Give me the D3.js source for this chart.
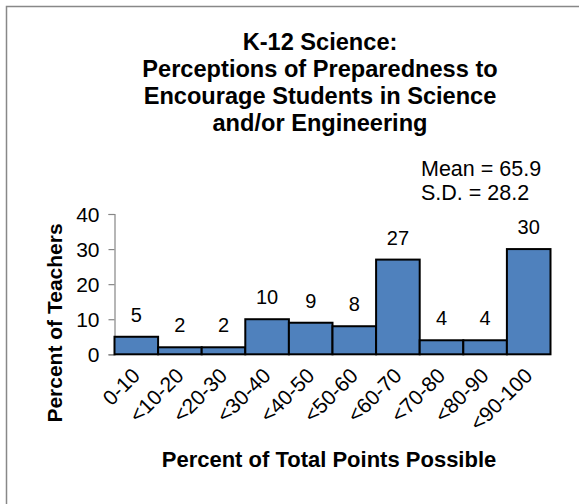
<!DOCTYPE html>
<html>
<head>
<meta charset="utf-8">
<script src="https://cdn.jsdelivr.net/npm/d3@7"></script>
<style>
  body { margin: 0; background: #fff; }
  text { font-family: "Liberation Sans", Arial, sans-serif; fill: #000; }
</style>
</head>
<body>
<div id="chart"></div>
<script>
const width = 579, height = 504;

// données
const categories = ["0-10", "<10-20", "<20-30", "<30-40", "<40-50", "<50-60", "<60-70", "<70-80", "<80-90", "<90-100"];
const values = [5, 2, 2, 10, 9, 8, 27, 4, 4, 30];
const yTicks = [0, 10, 20, 30, 40];
const titleLines = ["K-12 Science:", "Perceptions of Preparedness to", "Encourage Students in Science", "and/or Engineering"];
const statLines = ["Mean = 65.9", "S.D. = 28.2"];

const svg = d3.select("#chart").append("svg")
  .attr("width", width)
  .attr("height", height);

// cadre
svg.append("rect")
  .attr("x", 6.5).attr("y", 6.5)
  .attr("width", 620).attr("height", 540)
  .attr("fill", "none")
  .attr("stroke", "#888")
  .attr("stroke-width", 1.5);

// titre
svg.append("text")
  .attr("text-anchor", "middle")
  .style("font-weight", "bold")
  .style("font-size", "23.6px")
  .selectAll("tspan")
  .data(titleLines)
  .join("tspan")
  .attr("x", 320)
  .attr("y", (d, i) => 49.5 + i * 27.2)
  .text(d => d);

// moyenne / écart-type
svg.append("text")
  .style("font-size", "21.5px")
  .selectAll("tspan")
  .data(statLines)
  .join("tspan")
  .attr("x", 421)
  .attr("y", (d, i) => 176 + i * 24)
  .text(d => d);

// échelles
const x = d3.scaleBand()
  .domain(categories)
  .range([114.5, 550.5])
  .padding(0);

const y = d3.scaleLinear()
  .domain([0, 40])
  .range([354.3, 214]);

// axe Y
const yAxis = svg.append("g")
  .attr("transform", "translate(114.5,0)")
  .call(d3.axisLeft(y).tickValues(yTicks).tickSize(6).tickPadding(9));
yAxis.select(".domain").attr("stroke", "#868686").attr("stroke-width", 1.2);
yAxis.selectAll(".tick line").attr("stroke", "#868686").attr("stroke-width", 1.2);
yAxis.selectAll(".tick text")
  .style("font-family", "Liberation Sans, Arial, sans-serif")
  .style("font-size", "21px")
  .attr("dy", "0.36em");

// ligne de base
svg.append("line")
  .attr("x1", 114.5).attr("x2", 550.5)
  .attr("y1", y(0)).attr("y2", y(0))
  .attr("stroke", "#868686");

// barres
svg.selectAll("rect.bar")
  .data(values)
  .join("rect")
  .attr("class", "bar")
  .attr("x", (d, i) => x(categories[i]))
  .attr("y", d => y(d))
  .attr("width", x.bandwidth())
  .attr("height", d => y(0) - y(d))
  .attr("fill", "#4F81BD")
  .attr("stroke", "#000")
  .attr("stroke-width", 2);

// étiquettes de valeurs
svg.selectAll("text.lbl")
  .data(values)
  .join("text")
  .attr("class", "lbl")
  .attr("x", (d, i) => x(categories[i]) + x.bandwidth() / 2)
  .attr("y", d => y(d) - 15)
  .attr("text-anchor", "middle")
  .style("font-size", "20px")
  .text(d => d);

// étiquettes de l'axe X
svg.selectAll("text.xlbl")
  .data(categories)
  .join("text")
  .attr("class", "xlbl")
  .attr("text-anchor", "end")
  .attr("transform", d => `translate(${x(d) + x.bandwidth() / 2 + 5},${377}) rotate(-45)`)
  .style("font-size", "21px")
  .text(d => d);

// titres des axes
svg.append("text")
  .attr("x", 329)
  .attr("y", 467)
  .attr("text-anchor", "middle")
  .style("font-weight", "bold")
  .style("font-size", "22px")
  .text("Percent of Total Points Possible");

svg.append("text")
  .attr("transform", "translate(62,323) rotate(-90)")
  .attr("text-anchor", "middle")
  .style("font-weight", "bold")
  .style("font-size", "21px")
  .text("Percent of Teachers");
</script>
</body>
</html>
